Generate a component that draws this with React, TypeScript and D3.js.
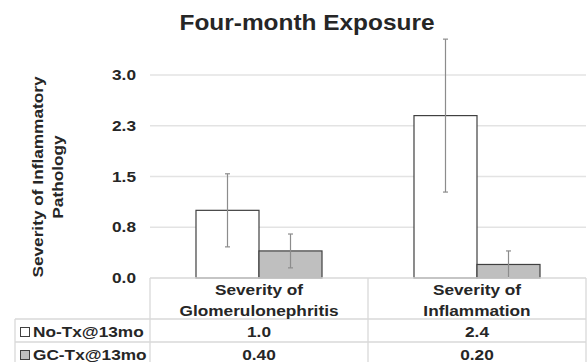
import React, { useEffect, useRef } from 'react';
import * as d3 from 'd3';

// Chart data
const categories = ['Severity of Glomerulonephritis', 'Severity of Inflammation'];
const categoryLines = [['Severity of', 'Glomerulonephritis'], ['Severity of', 'Inflammation']];
const seriesNames = ['No-Tx@13mo', 'GC-Tx@13mo'];
const noTxValues = [1.0, 2.4];
const gcTxValues = [0.4, 0.2];
const noTxErrors = [0.54, 1.13];
const gcTxErrors = [0.25, 0.2];
const noTxLabels = ['1.0', '2.4'];
const gcTxLabels = ['0.40', '0.20'];
const yTicks = [0, 0.75, 1.5, 2.25, 3.0];

const App = () => {
  const ref = useRef<SVGSVGElement>(null);

  useEffect(() => {
    const svg = d3.select(ref.current);
    svg.selectAll('*').remove();

    const width = 587;
    const height = 362;
    const plot = { left: 150, right: 586, top: 75, bottom: 278 };
    const tableLeft = 15;
    const row1 = 319;
    const row2 = 342;
    const font = '"Liberation Sans", Arial, sans-serif';
    const stretch = 1.15;

    const text = (x: number, y: number, s: string, size = 15, anchor = 'middle', rot = 0, sx = stretch) =>
      svg.append('text')
        .attr('transform', `translate(${x},${y}) rotate(${rot}) scale(${sx},1)`)
        .attr('text-anchor', anchor)
        .attr('font-family', font)
        .attr('font-weight', 'bold')
        .attr('font-size', size)
        .attr('fill', '#262626')
        .text(s);

    const y = d3.scaleLinear().domain([0, 3]).range([plot.bottom, plot.top]);
    const x = d3.scaleBand().domain(categories).range([plot.left, plot.right]).padding(0);
    const xs = d3.scaleBand().domain(seriesNames).range([0, x.bandwidth()])
      .paddingInner(0).paddingOuter(0.73);

    const fmt = d3.format('.1f');

    // gridlines
    svg.append('g')
      .selectAll('line')
      .data(yTicks.filter(t => t > 0))
      .enter()
      .append('line')
      .attr('x1', plot.left)
      .attr('x2', plot.right)
      .attr('y1', d => y(d))
      .attr('y2', d => y(d))
      .attr('stroke', '#e3e3e3')
      .attr('stroke-width', 1.3);

    // tick labels
    yTicks.forEach(t => {
      text(136, y(t) + 5, fmt(t), 15, 'end');
    });

    // bars
    const series = [
      { name: seriesNames[0], values: noTxValues, errors: noTxErrors, fill: '#ffffff' },
      { name: seriesNames[1], values: gcTxValues, errors: gcTxErrors, fill: '#bfbfbf' }
    ];

    series.forEach(s => {
      const g = svg.append('g');
      g.selectAll('rect')
        .data(categories)
        .enter()
        .append('rect')
        .attr('x', d => (x(d) as number) + (xs(s.name) as number))
        .attr('width', xs.bandwidth())
        .attr('y', (d, i) => y(s.values[i]))
        .attr('height', (d, i) => plot.bottom - y(s.values[i]))
        .attr('fill', s.fill)
        .attr('stroke', '#404040')
        .attr('stroke-width', 1.2);
    });

    // error bars
    series.forEach(s => {
      categories.forEach((c, i) => {
        const cx = (x(c) as number) + (xs(s.name) as number) + xs.bandwidth() / 2;
        const lo = y(Math.max(0, s.values[i] - s.errors[i]));
        const hi = y(s.values[i] + s.errors[i]);
        const eg = svg.append('g').attr('stroke', '#8c8c8c').attr('stroke-width', 1.2);
        eg.append('line').attr('x1', cx).attr('x2', cx).attr('y1', lo).attr('y2', hi);
        eg.append('line').attr('x1', cx - 2.5).attr('x2', cx + 2.5).attr('y1', hi).attr('y2', hi);
        if (s.values[i] - s.errors[i] > 0.01) {
          eg.append('line').attr('x1', cx - 2.5).attr('x2', cx + 2.5).attr('y1', lo).attr('y2', lo);
        }
      });
    });

    // data table lines
    const tg = svg.append('g').attr('stroke', '#d9d9d9').attr('stroke-width', 1.3);
    tg.append('line').attr('x1', plot.left).attr('x2', plot.right).attr('y1', plot.bottom).attr('y2', plot.bottom);
    [row1, row2].forEach(r => {
      tg.append('line').attr('x1', tableLeft).attr('x2', plot.right).attr('y1', r).attr('y2', r);
    });
    tg.append('line').attr('x1', tableLeft).attr('x2', tableLeft).attr('y1', row1).attr('y2', height);
    [plot.left, ...categories.map(c => (x(c) as number) + x.bandwidth())].forEach(vx => {
      tg.append('line').attr('x1', vx).attr('x2', vx).attr('y1', plot.bottom).attr('y2', height);
    });

    // category headers and values
    categories.forEach((c, i) => {
      const cx = (x(c) as number) + x.bandwidth() / 2;
      text(cx, 295, categoryLines[i][0]);
      text(cx, 316, categoryLines[i][1]);
      text(cx, 337, noTxLabels[i]);
      text(cx, 360, gcTxLabels[i]);
    });

    // legend keys in the table
    series.forEach((s, i) => {
      const ry = i === 0 ? 327 : 350;
      svg.append('rect')
        .attr('x', 20.5)
        .attr('y', ry + 0.5)
        .attr('width', 9)
        .attr('height', 9)
        .attr('fill', s.fill)
        .attr('stroke', '#404040')
        .attr('stroke-width', 1);
      text(33, ry + 10, s.name, 15, 'start');
    });

    // y axis title
    text(43, 177, 'Severity of Inflammatory', 15, 'middle', -90);
    text(63, 177, 'Pathology', 15, 'middle', -90);

    // title
    text(307, 30, 'Four-month Exposure', 22, 'middle', 0, 1.11);

    svg.attr('width', width).attr('height', height);
  }, []);

  return (
    <svg
      ref={ref}
      width={587}
      height={362}
      style={{ position: 'absolute', left: 0, top: 0, background: '#fff' }}
    />
  );
};

export default App;
